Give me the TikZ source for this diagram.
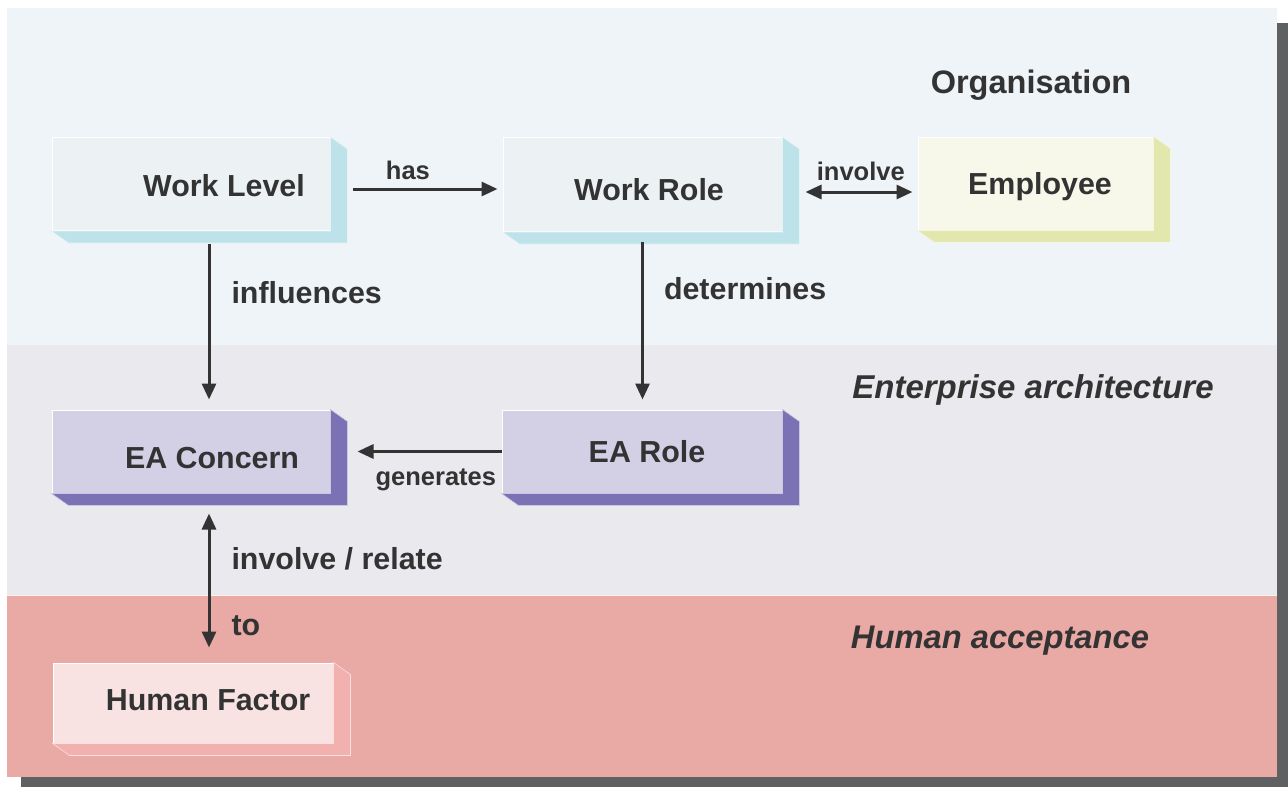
\documentclass[tikz,border=0pt]{standalone}
\usepackage{fontspec}
\setmainfont{Liberation Sans}
\usetikzlibrary{arrows.meta}
\definecolor{darktext}{HTML}{333333}
\definecolor{orgband}{HTML}{EFF4F8}
\definecolor{eaband}{HTML}{EAE9EE}
\definecolor{humband}{HTML}{E9A9A5}
\definecolor{shadowgray}{HTML}{5E6062}
\definecolor{workfront}{HTML}{ECF2F4}
\definecolor{workside}{HTML}{BDE2E9}
\definecolor{empfront}{HTML}{F7F8EA}
\definecolor{empside}{HTML}{E2E7AE}
\definecolor{eafront}{HTML}{D3D0E5}
\definecolor{easide}{HTML}{7A72B4}
\definecolor{hffront}{HTML}{F8E2E2}
\definecolor{hfside}{HTML}{F2B0AF}
\tikzset{
        >={Triangle[length=16pt, width=14pt]}, % filled heads on every connector
        every node/.style={text=darktext},
        slab/.style={fill=#1, draw=white, line width=1pt, inner sep=0pt}, % front face of a box
        boxtext/.style={font=\fontsize{30.4}{36}\selectfont\bfseries, anchor=base},
        bandtext/.style={font=\fontsize{32.5}{38}\selectfont\bfseries, anchor=base},
        reltext/.style={font=\fontsize{30.4}{36}\selectfont\bfseries, anchor=base west, inner sep=0pt, xshift=21pt},
        smalltext/.style={font=\fontsize{25.5}{30}\selectfont\bfseries, anchor=base},
        rel/.style={draw=darktext, line width=3pt}, % connectors
        }
% right and bottom faces of a box: #1 node, #2 colour
\newcommand{\slabdepth}[2]{%
  \filldraw[fill=#2, draw=white!60!#2, line width=0.6pt] (#1.north east) -- ++(17,12)
    -- ([shift={(17,12)}]#1.south east) -- ([shift={(17,12)}]#1.south west)
    -- (#1.south west) -- (#1.south east) -- cycle;}

\begin{document}
\begin{tikzpicture}[x=1pt, y=-1pt]
        \useasboundingbox (0,0) rectangle (1288,787);
        % layers and their shadow
        \fill[shadowgray] (1277,23) rectangle (1288,787);
        \fill[shadowgray] (21,777) rectangle (1288,787);
        \fill[orgband] (7,8) rectangle (1277,345);
        \fill[eaband] (7,345) rectangle (1277,595);
        \fill[humband] (7,595) rectangle (1277,777);
        \draw[white!85!humband, line width=1pt] (7,595) -- (1277,595);

        % boxes
        \node[slab=workfront, minimum width=278pt, minimum height=93pt] (wl) at (191,184) {};
        \node[slab=workfront, minimum width=279pt, minimum height=94pt] (wr) at (642.5,184.5) {};
        \node[slab=empfront, minimum width=235pt, minimum height=93pt] (emp) at (1035.5,183.5) {};
        \node[slab=eafront, minimum width=278pt, minimum height=83pt] (eac) at (191,451.5) {};
        \node[slab=eafront, minimum width=280pt, minimum height=83pt] (ear) at (642,451.5) {};
        \node[slab=hffront, minimum width=280pt, minimum height=80pt] (hf) at (193,703) {};
        \slabdepth{wl}{workside}
        \slabdepth{wr}{workside}
        \slabdepth{emp}{empside}
        \slabdepth{eac}{easide}
        \slabdepth{ear}{easide}
        \slabdepth{hf}{hfside}

        \node[boxtext] (wltext) at (224,196) {Work Level};
        \node[boxtext] (wrtext) at (649,200) {Work Role};
        \node[boxtext] (emptext) at (1040,194) {Employee};
        \node[boxtext] (eactext) at (212,468) {EA Concern};
        \node[boxtext] (eartext) at (647,462) {EA Role};
        \node[boxtext] (hftext) at (208,710) {Human Factor};

        % layer names
        \node[bandtext] (orgname) at (1031,93.5) {Organisation};
        \node[bandtext, font=\fontsize{33}{38}\selectfont\bfseries\itshape] (eaname) at (1033,398.5) {Enterprise architecture};
        \node[bandtext, font=\fontsize{32.7}{38}\selectfont\bfseries\itshape] (humname) at (1000,648.5) {Human acceptance};

        % relations
        \draw[rel, ->, shorten <=22pt, shorten >=5pt] ([yshift=-5pt]wl.east) -- ([yshift=-5pt]wl.east -| wr.west)
                node[smalltext, pos=0.45, yshift=10pt] (has) {has};
        \draw[rel, <->, shorten <=23pt, shorten >=5pt] ([yshift=-7.5pt]wr.east) -- ([yshift=-7.5pt]wr.east -| emp.west)
                node[smalltext, pos=0.58, yshift=12pt] (involve) {involve};
        \draw[rel, ->, shorten <=13pt, shorten >=10pt] ([xshift=18pt]wl.south) -- ([xshift=18pt]wl.south |- eac.north)
                node[reltext, pos=0.405] (influences) {influences};
        \draw[rel, ->, shorten <=10pt, shorten >=10pt] (wr.south) -- (wr.south |- ear.north)
                node[reltext, pos=0.382, xshift=-1pt] (determines) {determines};
        \draw[rel, ->, shorten >=27pt] (ear.west) -- (ear.west -| eac.east)
                node[smalltext, pos=0.384, yshift=-34pt] (generates) {generates};
        \draw[rel, <->, shorten <=20pt, shorten >=15pt] ([xshift=18pt]eac.south) -- ([xshift=18pt]eac.south |- hf.north)
                node[reltext, pos=0.447] (relate) {involve / relate}
                node[reltext, pos=0.84] (to) {to};
\end{tikzpicture}
\end{document}
